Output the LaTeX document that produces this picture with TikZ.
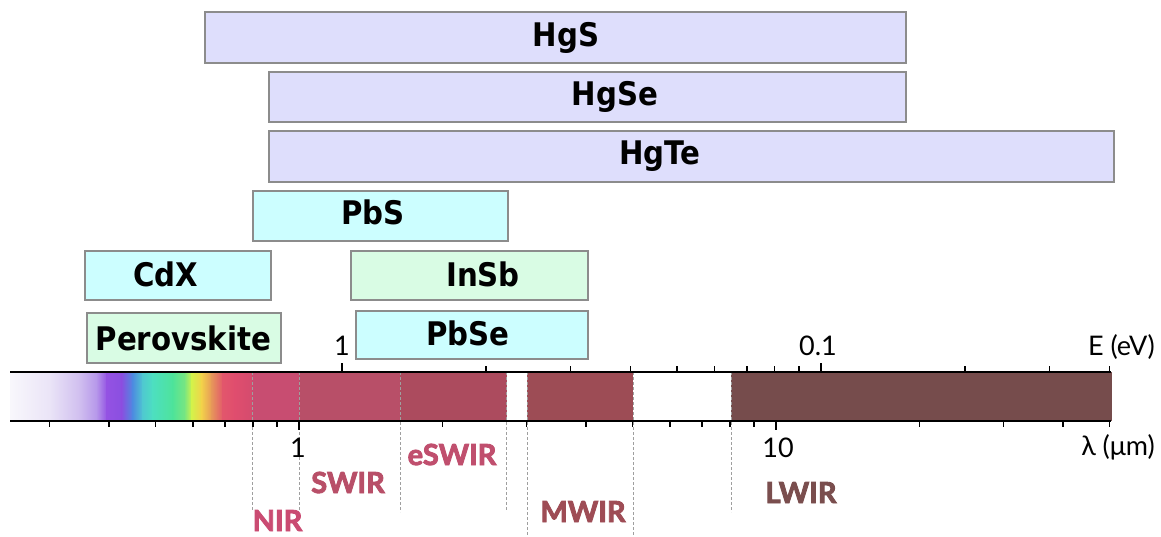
\documentclass[tikz,border=0pt]{standalone}
\usepackage{fontspec}
\setmainfont{Lato}
\newfontfamily\boxfont[FakeStretch=0.9]{DejaVu Sans Bold}
\newfontfamily\regfont[FakeBold=3]{Lato Bold}
\definecolor{boxgray}{HTML}{8C8C8C}
\definecolor{hgfill}{HTML}{DEDEFC}
\definecolor{cyfill}{HTML}{CCFEFF}
\definecolor{mintfill}{HTML}{D9FCE4}
\definecolor{nircol}{HTML}{C84D71}
\definecolor{swircol}{HTML}{B84F68}
\definecolor{eswircol}{HTML}{AC4B5E}
\definecolor{mwircol}{HTML}{9D4C55}
\definecolor{lwircol}{HTML}{764C4C}
\definecolor{nirtxt}{HTML}{CA4B72}
\definecolor{swirtxt}{HTML}{B84F68}
\definecolor{eswirtxt}{HTML}{C04F6E}
\definecolor{mwirtxt}{HTML}{9E4C55}
\definecolor{lwirtxt}{HTML}{7A4E4E}
\tikzset{
  matbox/.style={draw=boxgray, line width=2.2pt, inner sep=0pt, rectangle, anchor=north west},
  hgbox/.style={matbox, fill=hgfill},
  cybox/.style={matbox, fill=cyfill},
  mintbox/.style={matbox, fill=mintfill},
  boxlab/.style={font=\boxfont\fontsize{32.5}{36}\selectfont, inner sep=0pt, anchor=base},
  axlab/.style={font=\fontsize{27}{30}\selectfont, inner sep=0pt, anchor=base},
  reglab/.style={font=\regfont\fontsize{29}{32}\selectfont, inner sep=0pt, anchor=base},
  guide/.style={draw=gray!75, line width=0.8pt, dash pattern=on 3pt off 2pt},
  axisline/.style={draw=black, line width=2.5pt},
  tickline/.style={draw=black, line width=1.5pt}
}
\begin{document}
\begin{tikzpicture}[x=1pt, y=-1pt]
\useasboundingbox (0,0) rectangle (1161,537);

% material boxes
\node[hgbox, minimum width=701pt, minimum height=51pt] (hgs) at (204,11) {};
\node[hgbox, minimum width=637pt, minimum height=50pt] (hgse) at (268,71) {};
\node[hgbox, minimum width=845pt, minimum height=51pt] (hgte) at (268,130) {};
\node[cybox, minimum width=255pt, minimum height=50pt] (pbs) at (252,190) {};
\node[cybox, minimum width=186pt, minimum height=49pt] (cdx) at (84,250) {};
\node[mintbox, minimum width=237pt, minimum height=49pt] (insb) at (350,250) {};
\node[mintbox, minimum width=194pt, minimum height=50pt] (perov) at (86,312) {};
\node[cybox, minimum width=232pt, minimum height=48pt] (pbse) at (355,310) {};

\node[boxlab] (hgslab) at (566,46.7) {HgS};
\node[boxlab] (hgselab) at (615,106) {HgSe};
\node[boxlab] (hgtelab) at (660,165) {HgTe};
\node[boxlab] (pbslab) at (373,225) {PbS};
\node[boxlab] (cdxlab) at (166,287) {CdX};
\node[boxlab] (insblab) at (483,287) {InSb};
\node[boxlab] (perovlab) at (183.5,350) {Perovskite};
\node[boxlab] (pbselab) at (468,345) {PbSe};

% spectrum gradient
\foreach \xa/\ca/\xb/\cb in {11/F8F7FC/50/EAE4F7, 50/EAE4F7/80/D0BEEF, 80/D0BEEF/97/B596EA,
  97/B596EA/107/9452E3, 107/9452E3/122/8A4FE0, 122/8A4FE0/133/4D8CE0, 133/4D8CE0/143/4FC9D0,
  143/4FC9D0/153/4DDFC0, 153/4DDFC0/173/4EE39A, 173/4EE39A/185/7AE680, 185/7AE680/192/D4F24A,
  192/D4F24A/202/F2D04A, 202/F2D04A/212/E6955A, 212/E6955A/223/E2566C, 223/E2566C/235/E04D6E,
  235/E04D6E/252/D44C6E}{
  \definecolor{cA}{HTML}{\ca}\definecolor{cB}{HTML}{\cb}
  \shade[left color=cA, right color=cB] (\xa-0.4,372) rectangle (\xb+0.4,421);
}
% IR bands
\fill[nircol] (252,372) rectangle (299,421);
\fill[swircol] (299,372) rectangle (400,421);
\fill[eswircol] (400,372) rectangle (506.5,421);
\fill[mwircol] (527,372) rectangle (633,421);
\fill[lwircol] (731,372) rectangle (1112,421);

% guides
\foreach \gx/\gy in {252/510, 299/510, 400/512, 506.5/510, 527/537, 633/537, 731/512}{
  \draw[guide] (\gx,372) -- (\gx,\gy);
}

% axis lines
\draw[axisline] (10,372) -- (1111,372);
\draw[axisline] (10,421) -- (1111,421);

% energy ticks (top)
\foreach \n in {2,3,4,5,6,7,8,9,20,30,40}{
  \draw[tickline] ({342+479*log10(\n)},372) -- ++(0,-6);
}
\draw[tickline] (342,372) -- ++(0,-9);
\draw[tickline] (821,372) -- ++(0,-9);

% wavelength ticks (bottom)
\foreach \l in {0.3,0.4,0.5,0.6,0.7,0.8,0.9,2,3,4,5,6,7,8,9,20,30,40,50}{
  \draw[tickline] ({299+477*log10(\l)},421) -- ++(0,6);
}
\draw[tickline] (299,421) -- ++(0,9);
\draw[tickline] (776,421) -- ++(0,9);

% axis labels
\node[axlab] (e1) at (342,355) {1};
\node[axlab] (e01) at (818,355) {0.1};
\node[axlab, anchor=base east] (eunit) at (1155,355) {E (eV)};
\node[axlab] (l1) at (298,457) {1};
\node[axlab] (l10) at (778,457) {10};
\node[axlab, anchor=base east] (lunit) at (1155,455) {λ (μm)};

% region labels
\node[reglab, text=nirtxt] (nir) at (277.5,531) {NIR};
\node[reglab, text=swirtxt] (swir) at (348,493) {SWIR};
\node[reglab, text=eswirtxt] (eswir) at (452,465) {eSWIR};
\node[reglab, text=mwirtxt] (mwir) at (583,522) {MWIR};
\node[reglab, text=lwirtxt] (lwir) at (801,503) {LWIR};
\end{tikzpicture}
\end{document}
